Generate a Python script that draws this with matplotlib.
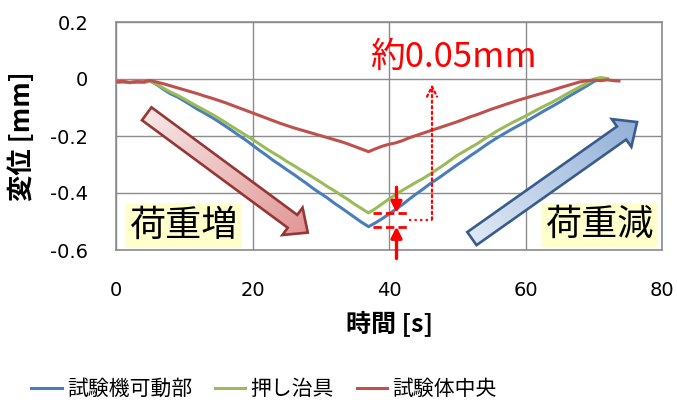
import numpy as np
import matplotlib
matplotlib.use("Agg")
import matplotlib.pyplot as plt
from matplotlib.patches import Polygon
from matplotlib.colors import to_rgb
from matplotlib.ticker import FixedLocator, FuncFormatter

plt.rcParams["font.family"] = ["Noto Sans CJK JP", "DejaVu Sans"]
plt.rcParams["axes.unicode_minus"] = False

# ---- measured displacement [mm] vs time [s] ----
time_s = list(range(0, 74)) + [73.7]

machine_stage = [  # 試験機可動部
    -0.012, -0.010, -0.013, -0.011, -0.012, -0.007,
    -0.020, -0.037, -0.052, -0.063, -0.077, -0.092, -0.107, -0.120, -0.134,
    -0.149, -0.165, -0.181, -0.198, -0.214, -0.232, -0.250, -0.267, -0.285,
    -0.301, -0.318, -0.334, -0.351, -0.368, -0.386, -0.402, -0.418, -0.436,
    -0.452, -0.469, -0.486, -0.503, -0.518,
    -0.505, -0.490, -0.474, -0.457, -0.440, -0.421, -0.403, -0.386, -0.368,
    -0.352, -0.335, -0.318, -0.301, -0.285, -0.268, -0.252, -0.235, -0.219,
    -0.204, -0.190, -0.176, -0.163, -0.150, -0.136, -0.122, -0.108, -0.095,
    -0.081, -0.066, -0.052, -0.038, -0.024, -0.009, 0.001, -0.001,
    np.nan, np.nan,
]

press_jig = [  # 押し治具
    -0.012, -0.011, -0.012, -0.010, -0.012, -0.007,
    -0.018, -0.033, -0.046, -0.057, -0.070, -0.084, -0.097, -0.110, -0.123,
    -0.137, -0.152, -0.167, -0.182, -0.197, -0.212, -0.228, -0.244, -0.259,
    -0.273, -0.289, -0.303, -0.318, -0.332, -0.347, -0.362, -0.378, -0.392,
    -0.408, -0.423, -0.440, -0.455, -0.470,
    -0.455, -0.438, -0.421, -0.405, -0.390, -0.376, -0.362, -0.349, -0.334,
    -0.318, -0.302, -0.285, -0.268, -0.254, -0.240, -0.226, -0.210, -0.195,
    -0.180, -0.167, -0.154, -0.142, -0.130, -0.117, -0.104, -0.092, -0.080,
    -0.067, -0.053, -0.040, -0.027, -0.015, 0.000, 0.005, 0.002,
    np.nan, np.nan,
]

specimen_center = [  # 試験体中央
    -0.010, -0.008, -0.012, -0.009, -0.010, -0.005,
    -0.011, -0.017, -0.024, -0.031, -0.038, -0.045, -0.052, -0.060, -0.067,
    -0.075, -0.083, -0.092, -0.101, -0.110, -0.119, -0.128, -0.137, -0.146,
    -0.155, -0.163, -0.171, -0.178, -0.185, -0.192, -0.199, -0.206, -0.213,
    -0.220, -0.228, -0.237, -0.246, -0.255,
    -0.245, -0.236, -0.229, -0.224, -0.216, -0.206, -0.198, -0.190, -0.182,
    -0.174, -0.166, -0.158, -0.150, -0.141, -0.132, -0.124, -0.115, -0.106,
    -0.098, -0.090, -0.082, -0.074, -0.067, -0.060, -0.053, -0.046, -0.039,
    -0.031, -0.024, -0.017, -0.010, -0.006, -0.004, -0.006, -0.003, -0.006,
    -0.007,
]

series_names = ["試験機可動部", "押し治具", "試験体中央"]
series_colors = ["#4a7ebb", "#9bbb59", "#c0504d"]

x_ticks = [0, 20, 40, 60, 80]
y_ticks = [-0.6, -0.4, -0.2, 0.0, 0.2]

# ---- figure ----
fig = plt.figure(figsize=(6.77, 4.03), dpi=100)
ax = fig.add_axes([116 / 677, 1 - 250 / 403, 546 / 677, 228 / 403])

lines = []
for vals, name, col in zip([machine_stage, press_jig, specimen_center],
                           series_names, series_colors):
    ln, = ax.plot(time_s, vals, color=col, lw=2.2, label=name, zorder=3)
    lines.append(ln)

ax.set_xlim(0, 80)
ax.set_ylim(-0.6, 0.2)
ax.xaxis.set_major_locator(FixedLocator(x_ticks))
ax.yaxis.set_major_locator(FixedLocator(y_ticks))
ax.yaxis.set_major_formatter(FuncFormatter(lambda v, p: "0" if abs(v) < 1e-9 else f"{v:.1f}"))
ax.grid(True, color="#8c8c8c", lw=1.0, zorder=0)
ax.set_axisbelow(True)
for sp in ax.spines.values():
    sp.set_color("#8c8c8c")
    sp.set_linewidth(1.2)
ax.tick_params(length=0)
ax.tick_params(axis="y", pad=20)
ax.tick_params(axis="x", pad=22)
for lab in ax.get_xticklabels() + ax.get_yticklabels():
    lab.set_family("DejaVu Sans")
    lab.set_fontsize(14)

ax.set_xlabel("時間 [s]", fontsize=18, fontweight="bold", labelpad=8)
ax.set_ylabel("変位 [mm]", fontsize=19, fontweight="bold", labelpad=10)


def gradient_arrow(ax, tail, tip, c_tail, c_head, edge,
                   shaft_px, head_w_px, head_len_px):
    T = ax.transData
    p0 = T.transform(tail)
    p1 = T.transform(tip)
    d = p1 - p0
    L = np.hypot(*d)
    u = d / L
    n = np.array([-u[1], u[0]])
    b = p1 - u * head_len_px
    hs, hh = shaft_px / 2, head_w_px / 2
    verts = np.array([p0 + n * hs, b + n * hs, b + n * hh, p1,
                      b - n * hh, b - n * hs, p0 - n * hs])
    poly = Polygon(T.inverted().transform(verts), closed=True, fc="none",
                   ec=edge, lw=1.9, zorder=5, joinstyle="miter")
    ax.add_patch(poly)
    lo = verts.min(axis=0) - 2
    hi = verts.max(axis=0) + 2
    nx, ny = int(hi[0] - lo[0]) + 2, int(hi[1] - lo[1]) + 2
    X, Y = np.meshgrid(np.linspace(lo[0], hi[0], nx), np.linspace(lo[1], hi[1], ny))
    t = np.clip(((X - p0[0]) * u[0] + (Y - p0[1]) * u[1]) / L, 0, 1)[..., None]
    img = np.array(to_rgb(c_tail)) * (1 - t) + np.array(to_rgb(c_head)) * t
    d0 = T.inverted().transform(lo)
    d1 = T.inverted().transform(hi)
    im = ax.imshow(img, extent=(d0[0], d1[0], d0[1], d1[1]), origin="lower",
                   aspect="auto", zorder=4, interpolation="bilinear")
    im.set_clip_path(poly)


gradient_arrow(ax, (4.5, -0.122), (28.1, -0.539), "#f7e6e6", "#e19796", "#953735",
               16, 34, 19)
gradient_arrow(ax, (52.15, -0.56), (76.35, -0.151), "#dfe8f5", "#92b0d8", "#385d8a",
               16, 34, 19)

ax.set_xlim(0, 80)
ax.set_ylim(-0.6, 0.2)

box = dict(boxstyle="square,pad=0.12", fc="#ffffcc", ec="none")
ax.text(9.93, -0.514, "荷重増", fontsize=26, ha="center", va="center", bbox=box, zorder=6)
ax.text(70.9, -0.512, "荷重減", fontsize=26, ha="center", va="center", bbox=box, zorder=6)

# difference between the two minima
blue_min = np.nanmin(machine_stage)
green_min = np.nanmin(press_jig)
t_min = time_s[int(np.nanargmin(machine_stage))]
for lvl in (green_min, blue_min):
    ax.plot([t_min + 0.6, 43.0], [lvl, lvl], color="red", lw=2, ls=(0, (3, 1.5)),
            zorder=6)
ax.annotate("", xy=(41.1, green_min), xytext=(41.1, -0.38),
            arrowprops=dict(arrowstyle="-|>", color="red", lw=2.4, mutation_scale=16,
                            shrinkA=0, shrinkB=0), zorder=7)
ax.annotate("", xy=(41.1, blue_min), xytext=(41.1, -0.63),
            arrowprops=dict(arrowstyle="-|>", color="red", lw=2.4, mutation_scale=16,
                            shrinkA=0, shrinkB=0), annotation_clip=False, zorder=7)
ax.plot([43.0, 46.3], [-0.493, -0.493], color="red", lw=1.6, ls=(0, (1, 1.5)), zorder=6)
ax.annotate("", xy=(46.3, -0.018), xytext=(46.3, -0.493),
            arrowprops=dict(arrowstyle="->", color="red", lw=1.6, ls=(0, (1, 1.5)),
                            mutation_scale=18, shrinkA=0, shrinkB=0), zorder=6)
ax.text(49.4, 0.075, "約0.05mm", color="red", fontsize=25, ha="center", va="center",
        zorder=7)

fig.legend(handles=lines, loc="center", bbox_to_anchor=(0.39, 1 - 389 / 403), ncol=3,
           frameon=False, fontsize=15, handlelength=1.45, handletextpad=0.25,
           columnspacing=1.1)

fig.savefig("out.png", dpi=100)
